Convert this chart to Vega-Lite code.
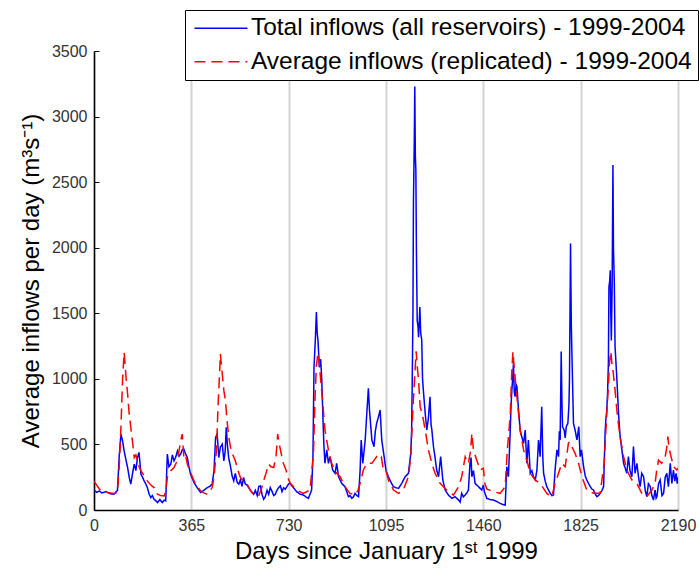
{
  "$schema": "https://vega.github.io/schema/vega-lite/v6.json",
  "width": 584,
  "height": 459,
  "autosize": {"type": "none"},
  "padding": {"left": 94, "top": 51, "right": 21, "bottom": 58},
  "background": "white",
  "config": {
    "view": {"stroke": null},
    "font": "Liberation Sans"
  },
  "data": {
    "values": [
      {"d":0,"v":150,"s":"total"},{"d":10,"v":135,"s":"total"},{"d":20,"v":145,"s":"total"},{"d":30,"v":130,"s":"total"},{"d":45,"v":140,"s":"total"},{"d":60,"v":125,"s":"total"},{"d":75,"v":120,"s":"total"},{"d":88,"v":150,"s":"total"},{"d":95,"v":426,"s":"total"},{"d":101,"v":579,"s":"total"},{"d":107,"v":528,"s":"total"},{"d":113,"v":451,"s":"total"},{"d":120,"v":380,"s":"total"},{"d":126,"v":324,"s":"total"},{"d":132,"v":250,"s":"total"},{"d":138,"v":197,"s":"total"},{"d":144,"v":273,"s":"total"},{"d":151,"v":350,"s":"total"},{"d":157,"v":300,"s":"total"},{"d":163,"v":400,"s":"total"},{"d":169,"v":439,"s":"total"},{"d":176,"v":273,"s":"total"},{"d":182,"v":250,"s":"total"},{"d":188,"v":222,"s":"total"},{"d":194,"v":200,"s":"total"},{"d":200,"v":171,"s":"total"},{"d":207,"v":120,"s":"total"},{"d":213,"v":95,"s":"total"},{"d":219,"v":110,"s":"total"},{"d":225,"v":82,"s":"total"},{"d":232,"v":70,"s":"total"},{"d":238,"v":57,"s":"total"},{"d":247,"v":80,"s":"total"},{"d":256,"v":57,"s":"total"},{"d":263,"v":75,"s":"total"},{"d":269,"v":70,"s":"total"},{"d":275,"v":426,"s":"total"},{"d":281,"v":330,"s":"total"},{"d":288,"v":350,"s":"total"},{"d":294,"v":420,"s":"total"},{"d":300,"v":375,"s":"total"},{"d":306,"v":400,"s":"total"},{"d":313,"v":451,"s":"total"},{"d":319,"v":410,"s":"total"},{"d":325,"v":426,"s":"total"},{"d":331,"v":460,"s":"total"},{"d":337,"v":464,"s":"total"},{"d":343,"v":430,"s":"total"},{"d":350,"v":400,"s":"total"},{"d":356,"v":330,"s":"total"},{"d":362,"v":273,"s":"total"},
      {"d":375,"v":210,"s":"total"},{"d":387,"v":170,"s":"total"},{"d":400,"v":133,"s":"total"},{"d":412,"v":150,"s":"total"},{"d":425,"v":171,"s":"total"},{"d":434,"v":180,"s":"total"},{"d":443,"v":197,"s":"total"},{"d":450,"v":300,"s":"total"},{"d":456,"v":553,"s":"total"},{"d":462,"v":579,"s":"total"},{"d":468,"v":400,"s":"total"},{"d":474,"v":480,"s":"total"},{"d":481,"v":502,"s":"total"},{"d":487,"v":375,"s":"total"},{"d":492,"v":450,"s":"total"},{"d":496,"v":630,"s":"total"},{"d":500,"v":500,"s":"total"},{"d":505,"v":400,"s":"total"},{"d":512,"v":330,"s":"total"},{"d":518,"v":260,"s":"total"},{"d":524,"v":222,"s":"total"},{"d":530,"v":280,"s":"total"},{"d":537,"v":210,"s":"total"},{"d":543,"v":197,"s":"total"},{"d":549,"v":230,"s":"total"},{"d":555,"v":180,"s":"total"},{"d":561,"v":248,"s":"total"},{"d":567,"v":200,"s":"total"},{"d":574,"v":190,"s":"total"},{"d":580,"v":171,"s":"total"},{"d":590,"v":140,"s":"total"},{"d":599,"v":120,"s":"total"},{"d":605,"v":150,"s":"total"},{"d":612,"v":110,"s":"total"},{"d":618,"v":180,"s":"total"},{"d":624,"v":184,"s":"total"},{"d":630,"v":120,"s":"total"},{"d":636,"v":82,"s":"total"},{"d":642,"v":100,"s":"total"},{"d":649,"v":150,"s":"total"},{"d":655,"v":120,"s":"total"},{"d":661,"v":171,"s":"total"},{"d":668,"v":140,"s":"total"},{"d":674,"v":110,"s":"total"},{"d":680,"v":120,"s":"total"},{"d":686,"v":150,"s":"total"},{"d":692,"v":170,"s":"total"},{"d":699,"v":184,"s":"total"},{"d":705,"v":140,"s":"total"},{"d":711,"v":170,"s":"total"},{"d":717,"v":158,"s":"total"},{"d":724,"v":180,"s":"total"},{"d":730,"v":200,"s":"total"},
      {"d":735,"v":203,"s":"total"},{"d":748,"v":170,"s":"total"},{"d":760,"v":140,"s":"total"},{"d":773,"v":120,"s":"total"},{"d":785,"v":114,"s":"total"},{"d":795,"v":100,"s":"total"},{"d":804,"v":89,"s":"total"},{"d":816,"v":152,"s":"total"},{"d":821,"v":400,"s":"total"},{"d":825,"v":1088,"s":"total"},{"d":830,"v":1300,"s":"total"},{"d":834,"v":1509,"s":"total"},{"d":837,"v":1350,"s":"total"},{"d":840,"v":1292,"s":"total"},{"d":845,"v":1088,"s":"total"},{"d":850,"v":1150,"s":"total"},{"d":854,"v":1000,"s":"total"},{"d":858,"v":737,"s":"total"},{"d":862,"v":500,"s":"total"},{"d":866,"v":356,"s":"total"},{"d":873,"v":458,"s":"total"},{"d":879,"v":356,"s":"total"},{"d":885,"v":407,"s":"total"},{"d":895,"v":305,"s":"total"},{"d":904,"v":280,"s":"total"},{"d":910,"v":356,"s":"total"},{"d":917,"v":254,"s":"total"},{"d":929,"v":203,"s":"total"},{"d":941,"v":178,"s":"total"},{"d":948,"v":140,"s":"total"},{"d":954,"v":102,"s":"total"},{"d":960,"v":110,"s":"total"},{"d":967,"v":89,"s":"total"},{"d":973,"v":100,"s":"total"},{"d":979,"v":127,"s":"total"},{"d":986,"v":110,"s":"total"},{"d":992,"v":102,"s":"total"},{"d":998,"v":305,"s":"total"},{"d":1002,"v":534,"s":"total"},{"d":1008,"v":356,"s":"total"},{"d":1017,"v":534,"s":"total"},{"d":1023,"v":737,"s":"total"},{"d":1029,"v":928,"s":"total"},{"d":1033,"v":763,"s":"total"},{"d":1042,"v":534,"s":"total"},{"d":1050,"v":483,"s":"total"},{"d":1055,"v":600,"s":"total"},{"d":1060,"v":661,"s":"total"},{"d":1067,"v":712,"s":"total"},{"d":1073,"v":763,"s":"total"},{"d":1079,"v":534,"s":"total"},{"d":1088,"v":407,"s":"total"},{"d":1095,"v":300,"s":"total"},
      {"d":1104,"v":254,"s":"total"},{"d":1114,"v":210,"s":"total"},{"d":1123,"v":178,"s":"total"},{"d":1132,"v":170,"s":"total"},{"d":1142,"v":165,"s":"total"},{"d":1154,"v":203,"s":"total"},{"d":1167,"v":254,"s":"total"},{"d":1179,"v":280,"s":"total"},{"d":1188,"v":432,"s":"total"},{"d":1191,"v":600,"s":"total"},{"d":1193,"v":910,"s":"total"},{"d":1196,"v":1500,"s":"total"},{"d":1198,"v":2363,"s":"total"},{"d":1201,"v":2800,"s":"total"},{"d":1203,"v":3229,"s":"total"},{"d":1205,"v":2700,"s":"total"},{"d":1207,"v":2592,"s":"total"},{"d":1209,"v":2000,"s":"total"},{"d":1212,"v":1445,"s":"total"},{"d":1215,"v":1400,"s":"total"},{"d":1217,"v":1318,"s":"total"},{"d":1220,"v":1450,"s":"total"},{"d":1222,"v":1547,"s":"total"},{"d":1225,"v":1350,"s":"total"},{"d":1229,"v":1297,"s":"total"},{"d":1232,"v":1000,"s":"total"},{"d":1235,"v":915,"s":"total"},{"d":1242,"v":737,"s":"total"},{"d":1248,"v":610,"s":"total"},{"d":1254,"v":700,"s":"total"},{"d":1260,"v":864,"s":"total"},{"d":1264,"v":650,"s":"total"},{"d":1267,"v":610,"s":"total"},{"d":1273,"v":483,"s":"total"},{"d":1279,"v":400,"s":"total"},{"d":1285,"v":305,"s":"total"},{"d":1292,"v":254,"s":"total"},{"d":1300,"v":407,"s":"total"},{"d":1308,"v":229,"s":"total"},{"d":1317,"v":152,"s":"total"},{"d":1329,"v":114,"s":"total"},{"d":1342,"v":89,"s":"total"},{"d":1354,"v":102,"s":"total"},{"d":1367,"v":76,"s":"total"},{"d":1373,"v":60,"s":"total"},{"d":1379,"v":127,"s":"total"},{"d":1385,"v":100,"s":"total"},{"d":1392,"v":114,"s":"total"},{"d":1398,"v":130,"s":"total"},{"d":1404,"v":152,"s":"total"},{"d":1410,"v":356,"s":"total"},{"d":1414,"v":400,"s":"total"},{"d":1417,"v":254,"s":"total"},{"d":1423,"v":300,"s":"total"},{"d":1429,"v":203,"s":"total"},{"d":1442,"v":178,"s":"total"},{"d":1454,"v":152,"s":"total"},{"d":1460,"v":190,"s":"total"},
      {"d":1464,"v":140,"s":"total"},{"d":1473,"v":89,"s":"total"},{"d":1485,"v":80,"s":"total"},{"d":1498,"v":76,"s":"total"},{"d":1510,"v":65,"s":"total"},{"d":1523,"v":51,"s":"total"},{"d":1535,"v":40,"s":"total"},{"d":1542,"v":38,"s":"total"},{"d":1548,"v":330,"s":"total"},{"d":1554,"v":254,"s":"total"},{"d":1558,"v":452,"s":"total"},{"d":1561,"v":610,"s":"total"},{"d":1564,"v":800,"s":"total"},{"d":1567,"v":915,"s":"total"},{"d":1570,"v":1000,"s":"total"},{"d":1573,"v":1119,"s":"total"},{"d":1576,"v":900,"s":"total"},{"d":1579,"v":864,"s":"total"},{"d":1583,"v":960,"s":"total"},{"d":1586,"v":941,"s":"total"},{"d":1589,"v":850,"s":"total"},{"d":1592,"v":763,"s":"total"},{"d":1598,"v":610,"s":"total"},{"d":1604,"v":560,"s":"total"},{"d":1611,"v":508,"s":"total"},{"d":1617,"v":610,"s":"total"},{"d":1623,"v":356,"s":"total"},{"d":1629,"v":534,"s":"total"},{"d":1636,"v":280,"s":"total"},{"d":1642,"v":300,"s":"total"},{"d":1648,"v":254,"s":"total"},{"d":1655,"v":230,"s":"total"},{"d":1661,"v":305,"s":"total"},{"d":1667,"v":534,"s":"total"},{"d":1673,"v":407,"s":"total"},{"d":1679,"v":788,"s":"total"},{"d":1683,"v":400,"s":"total"},{"d":1686,"v":280,"s":"total"},{"d":1692,"v":220,"s":"total"},{"d":1698,"v":178,"s":"total"},{"d":1705,"v":150,"s":"total"},{"d":1711,"v":127,"s":"total"},{"d":1717,"v":110,"s":"total"},{"d":1723,"v":114,"s":"total"},{"d":1729,"v":305,"s":"total"},{"d":1736,"v":458,"s":"total"},{"d":1742,"v":407,"s":"total"},{"d":1745,"v":600,"s":"total"},{"d":1748,"v":534,"s":"total"},{"d":1752,"v":1208,"s":"total"},{"d":1755,"v":800,"s":"total"},{"d":1757,"v":635,"s":"total"},{"d":1763,"v":610,"s":"total"},{"d":1767,"v":550,"s":"total"},{"d":1771,"v":635,"s":"total"},{"d":1777,"v":661,"s":"total"},{"d":1781,"v":800,"s":"total"},{"d":1783,"v":991,"s":"total"},{"d":1785,"v":1500,"s":"total"},{"d":1787,"v":2032,"s":"total"},{"d":1790,"v":1400,"s":"total"},{"d":1793,"v":1119,"s":"total"},{"d":1798,"v":661,"s":"total"},{"d":1804,"v":610,"s":"total"},{"d":1811,"v":534,"s":"total"},{"d":1818,"v":635,"s":"total"},{"d":1823,"v":407,"s":"total"},{"d":1828,"v":458,"s":"total"},
      {"d":1836,"v":330,"s":"total"},{"d":1842,"v":260,"s":"total"},{"d":1848,"v":229,"s":"total"},{"d":1855,"v":200,"s":"total"},{"d":1861,"v":178,"s":"total"},{"d":1867,"v":160,"s":"total"},{"d":1873,"v":152,"s":"total"},{"d":1880,"v":120,"s":"total"},{"d":1886,"v":102,"s":"total"},{"d":1892,"v":110,"s":"total"},{"d":1898,"v":127,"s":"total"},{"d":1905,"v":150,"s":"total"},{"d":1911,"v":178,"s":"total"},{"d":1914,"v":400,"s":"total"},{"d":1917,"v":610,"s":"total"},{"d":1920,"v":700,"s":"total"},{"d":1923,"v":763,"s":"total"},{"d":1926,"v":900,"s":"total"},{"d":1929,"v":1119,"s":"total"},{"d":1931,"v":1700,"s":"total"},{"d":1934,"v":1750,"s":"total"},{"d":1936,"v":1828,"s":"total"},{"d":1938,"v":1500,"s":"total"},{"d":1940,"v":1293,"s":"total"},{"d":1943,"v":1700,"s":"total"},{"d":1946,"v":2630,"s":"total"},{"d":1948,"v":2000,"s":"total"},{"d":1951,"v":1751,"s":"total"},{"d":1954,"v":1246,"s":"total"},{"d":1958,"v":1100,"s":"total"},{"d":1961,"v":991,"s":"total"},{"d":1967,"v":737,"s":"total"},{"d":1973,"v":559,"s":"total"},{"d":1980,"v":450,"s":"total"},{"d":1986,"v":356,"s":"total"},{"d":1992,"v":320,"s":"total"},{"d":1998,"v":280,"s":"total"},{"d":2004,"v":407,"s":"total"},{"d":2010,"v":300,"s":"total"},{"d":2017,"v":254,"s":"total"},{"d":2023,"v":483,"s":"total"},{"d":2029,"v":280,"s":"total"},{"d":2036,"v":356,"s":"total"},{"d":2042,"v":250,"s":"total"},{"d":2048,"v":178,"s":"total"},{"d":2054,"v":280,"s":"total"},{"d":2061,"v":254,"s":"total"},{"d":2067,"v":150,"s":"total"},{"d":2073,"v":102,"s":"total"},{"d":2079,"v":200,"s":"total"},{"d":2086,"v":178,"s":"total"},{"d":2092,"v":110,"s":"total"},{"d":2098,"v":76,"s":"total"},{"d":2104,"v":152,"s":"total"},{"d":2108,"v":90,"s":"total"},{"d":2111,"v":102,"s":"total"},{"d":2117,"v":200,"s":"total"},{"d":2123,"v":229,"s":"total"},{"d":2130,"v":110,"s":"total"},{"d":2136,"v":127,"s":"total"},{"d":2142,"v":250,"s":"total"},{"d":2148,"v":280,"s":"total"},{"d":2154,"v":178,"s":"total"},{"d":2161,"v":356,"s":"total"},{"d":2167,"v":203,"s":"total"},{"d":2173,"v":305,"s":"total"},{"d":2178,"v":220,"s":"total"},{"d":2183,"v":280,"s":"total"},{"d":2187,"v":200,"s":"total"},{"d":2190,"v":250,"s":"total"},

      {"d":0,"v":220,"s":"avg"},{"d":10,"v":190,"s":"avg"},{"d":20,"v":160,"s":"avg"},{"d":30,"v":140,"s":"avg"},{"d":45,"v":135,"s":"avg"},{"d":60,"v":130,"s":"avg"},{"d":75,"v":125,"s":"avg"},{"d":88,"v":135,"s":"avg"},{"d":95,"v":350,"s":"avg"},{"d":101,"v":630,"s":"avg"},{"d":107,"v":987,"s":"avg"},{"d":113,"v":1203,"s":"avg"},{"d":117,"v":1100,"s":"avg"},{"d":120,"v":1012,"s":"avg"},{"d":126,"v":885,"s":"avg"},{"d":132,"v":732,"s":"avg"},{"d":138,"v":630,"s":"avg"},{"d":144,"v":528,"s":"avg"},{"d":151,"v":400,"s":"avg"},{"d":157,"v":420,"s":"avg"},{"d":163,"v":375,"s":"avg"},{"d":169,"v":330,"s":"avg"},{"d":176,"v":300,"s":"avg"},{"d":188,"v":260,"s":"avg"},{"d":200,"v":222,"s":"avg"},{"d":213,"v":190,"s":"avg"},{"d":225,"v":171,"s":"avg"},{"d":238,"v":120,"s":"avg"},{"d":250,"v":110,"s":"avg"},{"d":263,"v":107,"s":"avg"},{"d":269,"v":140,"s":"avg"},{"d":275,"v":248,"s":"avg"},{"d":288,"v":300,"s":"avg"},{"d":300,"v":324,"s":"avg"},{"d":313,"v":380,"s":"avg"},{"d":325,"v":528,"s":"avg"},{"d":331,"v":579,"s":"avg"},{"d":337,"v":400,"s":"avg"},{"d":343,"v":420,"s":"avg"},{"d":350,"v":350,"s":"avg"},{"d":362,"v":286,"s":"avg"},
      {"d":375,"v":222,"s":"avg"},{"d":387,"v":180,"s":"avg"},{"d":400,"v":146,"s":"avg"},{"d":412,"v":130,"s":"avg"},{"d":425,"v":120,"s":"avg"},{"d":434,"v":140,"s":"avg"},{"d":443,"v":171,"s":"avg"},{"d":450,"v":250,"s":"avg"},{"d":459,"v":451,"s":"avg"},{"d":466,"v":834,"s":"avg"},{"d":470,"v":1000,"s":"avg"},{"d":474,"v":1190,"s":"avg"},{"d":478,"v":1100,"s":"avg"},{"d":481,"v":1037,"s":"avg"},{"d":487,"v":910,"s":"avg"},{"d":493,"v":834,"s":"avg"},{"d":499,"v":681,"s":"avg"},{"d":505,"v":560,"s":"avg"},{"d":512,"v":477,"s":"avg"},{"d":521,"v":420,"s":"avg"},{"d":530,"v":375,"s":"avg"},{"d":540,"v":300,"s":"avg"},{"d":549,"v":248,"s":"avg"},{"d":561,"v":220,"s":"avg"},{"d":574,"v":197,"s":"avg"},{"d":586,"v":150,"s":"avg"},{"d":599,"v":120,"s":"avg"},{"d":608,"v":115,"s":"avg"},{"d":617,"v":107,"s":"avg"},{"d":626,"v":150,"s":"avg"},{"d":636,"v":222,"s":"avg"},{"d":645,"v":280,"s":"avg"},{"d":655,"v":350,"s":"avg"},{"d":664,"v":330,"s":"avg"},{"d":674,"v":324,"s":"avg"},{"d":683,"v":420,"s":"avg"},{"d":689,"v":579,"s":"avg"},{"d":693,"v":520,"s":"avg"},{"d":698,"v":470,"s":"avg"},{"d":705,"v":400,"s":"avg"},{"d":710,"v":356,"s":"avg"},{"d":720,"v":305,"s":"avg"},{"d":730,"v":230,"s":"avg"},
      {"d":736,"v":203,"s":"avg"},{"d":760,"v":152,"s":"avg"},{"d":785,"v":127,"s":"avg"},{"d":810,"v":152,"s":"avg"},{"d":823,"v":432,"s":"avg"},{"d":829,"v":864,"s":"avg"},{"d":834,"v":1100,"s":"avg"},{"d":840,"v":1200,"s":"avg"},{"d":845,"v":1119,"s":"avg"},{"d":850,"v":991,"s":"avg"},{"d":858,"v":814,"s":"avg"},{"d":866,"v":610,"s":"avg"},{"d":879,"v":458,"s":"avg"},{"d":891,"v":356,"s":"avg"},{"d":910,"v":280,"s":"avg"},{"d":923,"v":254,"s":"avg"},{"d":941,"v":178,"s":"avg"},{"d":960,"v":127,"s":"avg"},{"d":979,"v":114,"s":"avg"},{"d":990,"v":150,"s":"avg"},{"d":998,"v":203,"s":"avg"},{"d":1010,"v":305,"s":"avg"},{"d":1023,"v":356,"s":"avg"},{"d":1042,"v":356,"s":"avg"},{"d":1060,"v":407,"s":"avg"},{"d":1073,"v":381,"s":"avg"},{"d":1078,"v":400,"s":"avg"},{"d":1085,"v":305,"s":"avg"},{"d":1095,"v":300,"s":"avg"},
      {"d":1104,"v":229,"s":"avg"},{"d":1123,"v":152,"s":"avg"},{"d":1142,"v":127,"s":"avg"},{"d":1160,"v":152,"s":"avg"},{"d":1179,"v":254,"s":"avg"},{"d":1188,"v":407,"s":"avg"},{"d":1195,"v":737,"s":"avg"},{"d":1202,"v":991,"s":"avg"},{"d":1208,"v":1210,"s":"avg"},{"d":1212,"v":1100,"s":"avg"},{"d":1217,"v":991,"s":"avg"},{"d":1223,"v":788,"s":"avg"},{"d":1233,"v":712,"s":"avg"},{"d":1242,"v":610,"s":"avg"},{"d":1254,"v":458,"s":"avg"},{"d":1267,"v":356,"s":"avg"},{"d":1279,"v":280,"s":"avg"},{"d":1298,"v":203,"s":"avg"},{"d":1323,"v":152,"s":"avg"},{"d":1348,"v":114,"s":"avg"},{"d":1367,"v":178,"s":"avg"},{"d":1379,"v":254,"s":"avg"},{"d":1392,"v":407,"s":"avg"},{"d":1404,"v":356,"s":"avg"},{"d":1412,"v":450,"s":"avg"},{"d":1417,"v":585,"s":"avg"},{"d":1423,"v":458,"s":"avg"},{"d":1435,"v":381,"s":"avg"},{"d":1448,"v":305,"s":"avg"},{"d":1460,"v":318,"s":"avg"},
      {"d":1466,"v":200,"s":"avg"},{"d":1473,"v":160,"s":"avg"},{"d":1485,"v":150,"s":"avg"},{"d":1498,"v":140,"s":"avg"},{"d":1523,"v":127,"s":"avg"},{"d":1542,"v":178,"s":"avg"},{"d":1550,"v":458,"s":"avg"},{"d":1556,"v":600,"s":"avg"},{"d":1561,"v":737,"s":"avg"},{"d":1567,"v":1068,"s":"avg"},{"d":1571,"v":1208,"s":"avg"},{"d":1575,"v":1100,"s":"avg"},{"d":1579,"v":1017,"s":"avg"},{"d":1586,"v":864,"s":"avg"},{"d":1592,"v":737,"s":"avg"},{"d":1598,"v":610,"s":"avg"},{"d":1611,"v":458,"s":"avg"},{"d":1623,"v":381,"s":"avg"},{"d":1636,"v":280,"s":"avg"},{"d":1654,"v":229,"s":"avg"},{"d":1673,"v":203,"s":"avg"},{"d":1698,"v":127,"s":"avg"},{"d":1717,"v":102,"s":"avg"},{"d":1729,"v":203,"s":"avg"},{"d":1742,"v":280,"s":"avg"},{"d":1754,"v":356,"s":"avg"},{"d":1767,"v":331,"s":"avg"},{"d":1779,"v":508,"s":"avg"},{"d":1783,"v":520,"s":"avg"},{"d":1792,"v":483,"s":"avg"},{"d":1804,"v":432,"s":"avg"},{"d":1817,"v":356,"s":"avg"},{"d":1830,"v":254,"s":"avg"},
      {"d":1848,"v":152,"s":"avg"},{"d":1873,"v":127,"s":"avg"},{"d":1898,"v":127,"s":"avg"},{"d":1913,"v":356,"s":"avg"},{"d":1923,"v":737,"s":"avg"},{"d":1929,"v":950,"s":"avg"},{"d":1933,"v":1119,"s":"avg"},{"d":1938,"v":1210,"s":"avg"},{"d":1942,"v":1120,"s":"avg"},{"d":1946,"v":1068,"s":"avg"},{"d":1954,"v":915,"s":"avg"},{"d":1963,"v":712,"s":"avg"},{"d":1973,"v":559,"s":"avg"},{"d":1986,"v":407,"s":"avg"},{"d":1998,"v":305,"s":"avg"},{"d":2017,"v":229,"s":"avg"},{"d":2036,"v":203,"s":"avg"},{"d":2054,"v":127,"s":"avg"},{"d":2073,"v":102,"s":"avg"},{"d":2092,"v":152,"s":"avg"},{"d":2104,"v":203,"s":"avg"},{"d":2110,"v":300,"s":"avg"},{"d":2117,"v":381,"s":"avg"},{"d":2129,"v":356,"s":"avg"},{"d":2142,"v":407,"s":"avg"},{"d":2148,"v":480,"s":"avg"},{"d":2152,"v":559,"s":"avg"},{"d":2156,"v":480,"s":"avg"},{"d":2161,"v":432,"s":"avg"},{"d":2173,"v":331,"s":"avg"},{"d":2186,"v":305,"s":"avg"},{"d":2190,"v":320,"s":"avg"}
    ]
  },
  "mark": {"type": "line", "strokeWidth": 1.5, "clip": true},
  "encoding": {
    "x": {
      "field": "d",
      "type": "quantitative",
      "scale": {"domain": [0, 2190], "nice": false, "zero": false},
      "axis": {
        "title": "Days since January 1ˢᵗ 1999",
        "values": [0, 365, 730, 1095, 1460, 1825, 2190],
        "format": "d",
        "grid": true,
        "gridColor": "#d4d4d4",
        "gridWidth": 2,
        "ticks": false,
        "domainColor": "black",
        "domainWidth": 1.5,
        "labelFontSize": 16,
        "labelColor": "#333333",
        "labelPadding": 7,
        "labelFlush": false,
        "titleFontSize": 24,
        "titleFontWeight": "normal",
        "titleColor": "black",
        "titlePadding": 6
      }
    },
    "y": {
      "field": "v",
      "type": "quantitative",
      "scale": {"domain": [0, 3500], "nice": false},
      "axis": {
        "title": "Average inflows per day (m³s⁻¹)",
        "values": [0, 500, 1000, 1500, 2000, 2500, 3000, 3500],
        "format": "d",
        "grid": false,
        "tickSize": -5,
        "tickColor": "black",
        "domainColor": "black",
        "domainWidth": 1.5,
        "labelFontSize": 16,
        "labelColor": "#333333",
        "labelPadding": 12,
        "titleFontSize": 24,
        "titleFontWeight": "normal",
        "titleColor": "black",
        "titlePadding": 8
      }
    },
    "color": {
      "field": "s",
      "type": "nominal",
      "scale": {"domain": ["total", "avg"], "range": ["#0000ff", "#ff0000"]},
      "legend": {
        "title": null,
        "orient": "none",
        "legendX": 91,
        "legendY": -41,
        "labelExpr": "datum.value == 'total' ? 'Total inflows (all reservoirs) - 1999-2004' : 'Average inflows (replicated) - 1999-2004'",
        "labelFontSize": 24.5,
        "labelColor": "black",
        "labelLimit": 700,
        "labelOffset": 17.7,
        "symbolType": "M-3,0H3",
        "symbolSize": 312,
        "symbolStrokeWidth": 1.5,
        "symbolOffset": 17.7,
        "rowPadding": 8.5,
        "padding": 6,
        "strokeColor": "black",
        "fillColor": "white"
      }
    },
    "strokeDash": {
      "field": "s",
      "type": "nominal",
      "scale": {"domain": ["total", "avg"], "range": [[1, 0], [11, 6]]},
      "legend": {
        "title": null,
        "orient": "none",
        "legendX": 91,
        "legendY": -41,
        "labelExpr": "datum.value == 'total' ? 'Total inflows (all reservoirs) - 1999-2004' : 'Average inflows (replicated) - 1999-2004'",
        "labelFontSize": 24.5,
        "labelColor": "black",
        "labelLimit": 700,
        "labelOffset": 17.7,
        "symbolType": "M-3,0H3",
        "symbolSize": 312,
        "symbolStrokeWidth": 1.5,
        "symbolOffset": 17.7,
        "rowPadding": 8.5,
        "padding": 6,
        "strokeColor": "black",
        "fillColor": "white"
      }
    }
  }
}
